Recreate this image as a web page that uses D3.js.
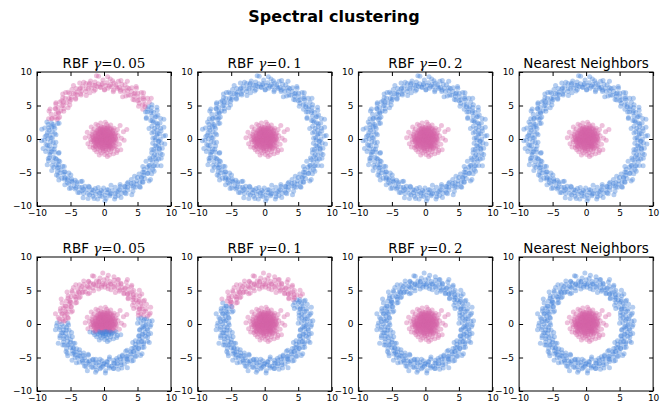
<!DOCTYPE html>
<html>
<head>
<meta charset="utf-8">
<script src="https://cdn.jsdelivr.net/npm/d3@7"></script>
<style>
body { margin: 0; background: #fff; }
text { font-family: "DejaVu Sans", sans-serif; }
</style>
</head>
<body>
<svg width="668" height="409"></svg>
<script>
// outer ring of the first data set, [angle in degrees, radius]
var ringTop = [
[0,8.4],[1.5,7.6],[3,8.9],[4,7.9],[5.5,8.3],[7,7.2],[8,8.6],[9.5,8.0],[11,9.1],[12,7.7],[13.5,8.2],[15,7.4],[16,8.7],[17.5,8.1],[19,7.8],[20,9.0],[21.5,7.5],[23,8.3],[24,8.8],[25.5,7.9],[27,7.1],[28,8.4],[29.5,8.0],[31,9.2],[32,7.6],[33.5,8.5],[35,7.9],[36,8.2],[37.5,7.3],[39,8.7],[40,8.0],[41.5,7.7],[43,8.9],[44,8.3],[45.5,7.5],[47,8.6],[48,7.9],[49.5,9.1],[51,8.1],[52,7.4],[53.5,8.5],[55,7.8],[56,8.3],[57.5,9.0],[59,7.6],[60,8.2],[61.5,8.7],[63,7.2],[64,8.0],[65.5,8.4],[67,7.7],[68,9.3],[69.5,8.1],[71,7.5],[72,8.6],[73.5,8.0],[75,7.8],[76,8.9],[77.5,8.3],[79,7.4],[80,8.5],[81.5,7.9],[83,8.2],[84,9.0],[85.5,7.6],[87,8.4],[88,8.0],[89.5,7.3],[91,8.8],[92,8.1],[93.5,7.7],[95,9.4],[96,8.3],[97.5,7.9],[99,8.6],[100,7.5],[101.5,8.2],[103,8.9],[104,7.8],[105.5,8.4],[107,7.2],[108,8.7],[109.5,8.0],[111,7.6],[112,8.5],[113.5,9.1],[115,7.9],[116,8.3],[117.5,7.4],[119,8.6],[120,8.1],[121.5,7.7],[123,8.8],[124,8.2],[125.5,7.3],[127,8.5],[128,7.9],[129.5,9.0],[131,8.0],[132,7.6],[133.5,8.4],[135,8.7],[136,7.8],[137.5,8.2],[139,7.1],[140,8.6],[141.5,8.0],[143,7.5],[144,8.9],[145.5,8.3],[147,7.7],[148,8.5],[149.5,7.9],[151,9.2],[152,8.1],[153.5,7.4],[155,8.7],[156,8.0],[157.5,7.6],[159,8.4],[160,8.8],[161.5,7.3],[163,8.2],[164,7.9],[165.5,8.6],[167,8.0],[168,7.5],[169.5,9.0],[171,8.3],[172,7.8],[173.5,8.5],[175,7.2],[176,8.1],[177.5,8.8],[179,7.7],[180,8.4],[181.5,9.3],[183,8.0],[184,7.6],[185.5,8.7],[187,8.2],[188,7.4],[189.5,8.5],[191,7.9],[192,8.9],[193.5,8.1],[195,7.6],[196,8.4],[197.5,7.1],[199,8.6],[200,8.0],[201.5,8.9],[203,7.7],[204,8.3],[205.5,7.5],[207,8.7],[208,8.1],[209.5,7.8],[211,9.1],[212,8.2],[213.5,7.4],[215,8.5],[216,7.9],[217.5,8.3],[219,8.8],[220,7.6],[221.5,8.0],[223,8.6],[224,7.3],[225.5,8.4],[227,7.9],[228,8.2],[229.5,9.0],[231,7.7],[232,8.5],[233.5,8.0],[235,7.5],[236,8.8],[237.5,8.3],[239,7.8],[240,8.6],[241.5,7.2],[243,8.1],[244,8.9],[245.5,7.9],[247,8.4],[248,7.6],[249.5,8.7],[251,8.0],[252,7.4],[253.5,8.5],[255,9.2],[256,7.8],[257.5,8.2],[259,8.7],[260,7.5],[261.5,8.3],[263,7.9],[264,9.0],[265.5,8.1],[267,7.7],[268,8.6],[269.5,7.3],[271,8.4],[272,8.9],[273.5,8.0],[275,7.6],[276,8.5],[277.5,8.2],[279,7.8],[280,9.1],[281.5,8.3],[283,7.4],[284,8.7],[285.5,8.0],[287,7.9],[288,8.5],[289.5,7.2],[291,8.2],[292,8.8],[293.5,7.7],[295,8.4],[296,8.0],[297.5,7.5],[299,8.9],[300,8.1],[301.5,7.8],[303,8.6],[304,7.3],[305.5,8.3],[307,9.0],[308,7.9],[309.5,8.4],[311,7.6],[312,8.7],[313.5,8.1],[315,7.4],[316,8.5],[317.5,8.0],[319,9.2],[320,7.8],[321.5,8.3],[323,7.5],[324,8.8],[325.5,8.2],[327,7.7],[328,8.6],[329.5,7.9],[331,8.4],[332,7.1],[333.5,8.9],[335,8.0],[336,7.6],[337.5,8.5],[339,8.2],[340,7.8],[341.5,9.0],[343,8.3],[344,7.4],[345.5,8.7],[347,8.0],[348,7.6],[349.5,8.4],[351,8.8],[352,7.9],[353.5,8.2],[355,7.3],[356,8.6],[357.5,8.1],[359,7.7],
[0.8,7.3],[3.2,9.2],[5.6,8.0],[8.4,7.5],[10.7,8.6],[13.1,6.9],[15.6,8.3],[18.2,9.4],[20.6,7.7],[23.3,8.5],[25.8,7.0],[28.4,9.0],[30.6,8.2],[33.1,7.4],[35.6,8.8],[38.2,7.8],[40.7,9.3],[43.4,7.1],[45.9,8.4],[48.6,7.6],[51.2,8.9],[53.7,7.3],[56.3,8.1],[58.6,9.2],[61.1,7.5],[63.7,8.4],[66.2,6.9],[68.8,8.7],[71.4,7.7],[73.9,9.1],[76.5,8.0],[78.9,7.2],[81.6,8.8],[84.2,7.9],[86.7,9.3],[89.3,7.4],[91.8,8.3],[94.2,7.8],[96.8,9.5],[99.4,8.1],[101.8,7.3],[104.5,8.6],[107.1,7.9],[109.6,9.0],[112.2,7.0],[114.8,8.4],[117.3,7.6],[119.7,9.2],[122.4,8.0],[124.9,7.4],[127.5,8.8],[130.1,7.7],[132.6,9.1],[135.2,7.2],[137.8,8.5],[140.3,7.9],[142.9,9.0],[145.4,7.3],[147.9,8.6],[150.6,7.8],[153.1,9.2],[155.7,7.5],[158.2,8.3],[160.8,7.1],[163.4,8.9],[165.9,7.7],[168.5,8.4],[171.1,9.4],[173.6,7.4],[176.2,8.6],[178.7,7.9],[181.3,8.9],[183.8,7.2],[186.4,8.5],[188.9,9.2],[191.5,7.6],[194.1,8.3],[196.6,7.0],[199.2,8.8],[201.7,7.8],[204.3,9.3],[206.9,7.4],[209.4,8.6],[212.0,8.0],[214.6,7.2],[217.1,8.9],[219.7,7.7],[222.2,9.1],[224.8,8.2],[227.3,7.3],[229.9,8.5],[232.5,7.9],[235.0,9.0],[237.6,7.6],[240.2,8.4],[242.7,7.1],[245.3,8.8],[247.8,8.1],[250.4,9.3],[253.0,7.5],[255.5,8.6],[258.1,7.8],[260.6,9.0],[263.2,7.3],[265.8,8.5],[268.3,7.9],[270.9,9.2],[273.4,7.6],[276.0,8.3],[278.6,7.0],[281.1,8.8],[283.7,8.1],[286.2,9.1],[288.8,7.5],[291.4,8.6],[293.9,7.8],[296.5,9.3],[299.0,7.4],[301.6,8.4],[304.2,7.9],[306.7,8.9],[309.3,7.2],[311.8,8.6],[314.4,8.0],[317.0,9.2],[319.5,7.6],[322.1,8.3],[324.6,7.1],[327.2,8.9],[329.8,7.8],[332.3,8.5],[334.9,9.4],[337.4,7.4],[340.0,8.7],[342.6,7.9],[345.1,9.0],[347.7,7.3],[350.2,8.4],[352.8,7.7],[355.4,9.1],[357.9,8.2]
];

// outer ring of the second data set, [angle in degrees, radius]
var ringBot = [
[0,6.3],[2,5.5],[3.5,6.8],[5,5.9],[7,6.4],[8.5,5.2],[10,6.6],[12,6.0],[13.5,7.1],[15,5.7],[17,6.2],[18.5,5.4],[20,6.7],[22,6.1],[23.5,5.8],[25,7.0],[27,5.5],[28.5,6.3],[30,6.8],[32,5.9],[33.5,5.1],[35,6.4],[37,6.0],[38.5,7.2],[40,5.6],[42,6.5],[43.5,5.9],[45,6.2],[47,5.3],[48.5,6.7],[50,6.0],[52,5.7],[53.5,6.9],[55,6.3],[57,5.5],[58.5,6.6],[60,5.9],[62,7.1],[63.5,6.1],[65,5.4],[67,6.5],[68.5,5.8],[70,6.3],[72,7.0],[73.5,5.6],[75,6.2],[77,6.7],[78.5,5.2],[80,6.0],[82,6.4],[83.5,5.7],[85,7.3],[87,6.1],[88.5,5.5],[90,6.6],[92,6.0],[93.5,5.8],[95,6.9],[97,6.3],[98.5,5.3],[100,6.5],[102,5.9],[103.5,7.4],[105,6.1],[107,5.6],[108.5,6.4],[110,6.8],[112,5.8],[113.5,6.2],[115,5.1],[117,6.6],[118.5,6.0],[120,5.5],[122,6.9],[123.5,6.3],[125,5.7],[127,6.5],[128.5,5.9],[130,7.1],[132,6.1],[133.5,5.4],[135,6.7],[137,6.0],[138.5,5.6],[140,6.4],[142,6.8],[143.5,5.3],[145,6.2],[147,5.9],[148.5,6.6],[150,6.0],[152,5.5],[153.5,7.0],[155,6.3],[157,5.8],[158.5,6.5],[160,5.2],[162,6.1],[163.5,6.8],[165,5.7],[167,6.4],[168.5,6.0],[170,5.5],[172,6.9],[173.5,6.2],[175,5.8],[177,6.6],[178.5,5.4],[180,6.3],[182,7.1],[183.5,6.0],[185,5.6],[187,6.7],[188.5,6.1],[190,5.3],[192,6.5],[193.5,5.9],[195,6.8],[197,6.2],[198.5,5.5],[200,6.4],[202,5.1],[203.5,6.6],[205,6.0],[207,6.9],[208.5,5.7],[210,6.3],[212,5.4],[213.5,6.7],[215,6.1],[217,5.8],[218.5,7.0],[220,6.2],[222,5.5],[223.5,6.5],[225,5.9],[227,6.3],[228.5,7.2],[230,5.6],[232,6.4],[233.5,6.0],[235,5.3],[237,6.8],[238.5,6.2],[240,5.8],[242,6.6],[243.5,5.2],[245,6.1],[247,6.9],[248.5,5.9],[250,6.4],[252,5.6],[253.5,6.7],[255,6.0],[257,5.4],[258.5,6.5],[260,7.3],[262,5.8],[263.5,6.2],[265,6.7],[267,5.5],[268.5,6.3],[270,5.9],[272,7.0],[273.5,6.1],[275,5.7],[277,6.6],[278.5,5.3],[280,6.4],[282,6.8],[283.5,6.0],[285,5.6],[287,6.5],[288.5,6.2],[290,5.8],[292,7.1],[293.5,6.3],[295,5.4],[297,6.7],[298.5,6.0],[300,5.5],[302,6.6],[303.5,6.2],[305,5.9],[307,6.9],[308.5,5.2],[310,6.4],[312,6.0],[313.5,5.7],[315,6.8],[317,6.1],[318.5,5.5],[320,6.5],[322,7.2],[323.5,5.9],[325,6.3],[327,5.6],[328.5,6.7],[330,6.0],[332,5.3],[333.5,6.6],[335,6.2],[337,5.8],[338.5,7.0],[340,6.1],[342,5.5],[343.5,6.5],[345,5.9],[347,6.8],[348.5,6.3],[350,5.4],[352,6.6],[353.5,6.0],[355,5.7],[357,6.9],[358.5,6.2],
[1.1,5.0],[3.8,7.2],[6.5,6.1],[9.2,5.6],[11.8,6.9],[14.4,5.3],[17.1,6.5],[19.8,7.4],[22.4,5.7],[25.1,6.3],[27.7,5.0],[30.4,7.0],[33.0,6.2],[35.7,5.5],[38.3,6.8],[41.0,5.9],[43.7,7.3],[46.3,5.2],[49.0,6.4],[51.6,5.7],[54.3,7.1],[56.9,5.4],[59.6,6.2],[62.2,7.5],[64.9,5.6],[67.5,6.6],[70.2,5.0],[72.8,6.9],[75.5,5.8],[78.1,7.2],[80.8,6.1],[83.4,5.3],[86.1,6.8],[88.7,5.9],[91.4,7.6],[94.0,5.5],[96.7,6.4],[99.3,5.8],[102.0,7.3],[104.6,6.2],[107.3,5.2],[109.9,6.7],[112.6,6.0],[115.2,7.1],[117.9,5.1],[120.5,6.5],[123.2,5.7],[125.8,7.2],[128.5,6.1],[131.1,5.4],[133.8,6.9],[136.4,5.8],[139.1,7.3],[141.7,5.2],[144.4,6.6],[147.0,6.0],[149.7,7.4],[152.3,5.6],[155.0,6.4],[157.6,5.1],[160.3,6.9],[162.9,5.9],[165.6,6.5],[168.2,7.4],[170.9,5.4],[173.5,6.7],[176.2,6.0],[178.8,7.0],[181.5,5.3],[184.1,6.6],[186.8,7.3],[189.4,5.7],[192.1,6.3],[194.7,5.0],[197.4,6.9],[200.0,5.9],[202.7,7.4],[205.3,5.5],[208.0,6.7],[210.6,6.1],[213.3,5.2],[215.9,7.0],[218.6,5.8],[221.2,7.2],[223.9,6.2],[226.5,5.3],[229.2,6.6],[231.8,6.0],[234.5,7.1],[237.1,5.6],[239.8,6.4],[242.4,5.1],[245.1,6.9],[247.7,6.2],[250.4,7.4],[253.0,5.5],[255.7,6.7],[258.3,5.9],[261.0,7.0],[263.6,5.3],[266.3,6.5],[268.9,6.0],[271.6,7.3],[274.2,5.6],[276.9,6.3],[279.5,5.0],[282.2,6.8],[284.8,6.1],[287.5,7.1],[290.1,5.5],[292.8,6.6],[295.4,5.8],[298.1,7.4],[300.7,5.4],[303.4,6.4],[306.0,5.9],[308.7,7.0],[311.3,5.2],[314.0,6.7],[316.6,6.0],[319.3,7.2],[321.9,5.7],[324.6,6.3],[327.2,5.1],[329.9,6.9],[332.5,5.8],[335.2,6.5],[337.8,7.3],[340.5,5.5],[343.1,6.8],[345.8,6.0],[348.4,7.1],[351.1,5.4],[353.7,6.5],[356.4,5.9],[359.0,7.0]
];

// inner blob, [x, y]
var blob = [
[0.1,0.2],[-0.4,0.6],[0.7,-0.3],[-0.9,-0.5],[0.3,1.1],[1.2,0.4],[-1.3,0.1],[0.5,-1.0],[-0.2,-0.7],[0.9,0.9],
[-0.6,1.4],[1.5,-0.6],[-1.1,-1.2],[0.2,-0.1],[-0.3,0.3],[0.6,0.5],[-0.8,0.8],[1.0,-1.1],[-1.5,-0.3],[0.4,1.6],
[1.7,0.2],[-0.1,-1.4],[-1.8,0.7],[0.8,-0.8],[-0.5,-0.2],[0.0,0.9],[1.3,1.2],[-1.0,1.0],[0.3,-0.5],[-0.7,-1.0],
[1.9,-0.2],[-2.0,-0.1],[0.6,1.9],[-0.4,1.8],[1.1,-1.5],[-1.4,-1.6],[0.2,0.5],[-0.2,0.0],[0.9,0.1],[-0.9,0.3],
[0.4,-0.9],[-0.6,-0.6],[1.4,0.8],[-1.2,0.5],[0.1,1.3],[0.7,-1.3],[-0.3,-1.1],[1.6,-1.0],[-1.7,1.1],[0.5,0.0],
[-0.1,0.7],[0.8,0.6],[-0.5,1.0],[1.0,-0.4],[-1.0,-0.8],[0.2,-1.7],[-0.8,1.6],[1.8,0.9],[-1.6,-0.9],[0.0,-0.3],
[0.3,0.8],[-0.4,-0.4],[1.2,-0.1],[-1.1,0.0],[0.6,1.2],[-0.2,1.5],[0.9,-0.9],[-0.7,0.2],[2.1,0.5],[-2.2,0.4],
[0.4,2.2],[-0.9,2.0],[1.5,1.6],[-1.5,1.5],[2.3,-0.8],[-2.4,-0.7],[0.7,0.3],[-0.3,0.9],[0.1,-0.6],[1.1,0.6],
[-1.3,0.9],[0.5,1.4],[-0.6,-0.1],[0.8,-0.1],[-0.1,1.1],[1.3,-0.8],[-1.2,-0.4],[0.0,0.4],[0.4,0.2],[-0.5,0.5],
[1.7,-0.5],[-1.9,-0.4],[2.6,0.1],[-2.5,1.0],[1.0,2.1],[-1.2,2.2],[2.0,1.4],[-2.1,-1.2],[3.0,-0.2],[2.9,1.1],
[-2.8,0.2],[0.2,2.5],[-0.5,2.4],[3.4,1.4],[2.4,2.0],[-1.9,1.8],[1.4,0.0],[-1.4,-0.1],[0.6,-0.6],[-0.2,-0.2],
[0.2,0.0],[-0.8,-0.2],[1.1,1.5],[0.0,1.8],[-1.6,0.3],[1.6,0.5],[0.9,1.4],[-0.3,1.2],
[0.15,0.45],[-0.25,-0.35],[0.55,0.75],[-0.65,0.35],[0.35,-0.25],[-0.05,-0.85],[0.85,-0.55],[-0.95,0.65],[0.25,1.35],[-0.45,1.15],
[1.05,0.25],[-1.15,-0.25],[0.65,-0.95],[-0.35,-0.95],[0.05,0.15],[-0.15,0.55],[0.45,-0.65],[-0.75,-0.45],[1.25,0.85],[-1.05,1.25],
[0.75,1.05],[-0.55,0.05],[0.95,-0.15],[-0.85,-0.85],[0.15,-0.45],[-0.35,0.75],[1.35,-0.35],[-1.35,0.45],[0.55,0.15],[-0.15,-0.15],
[0.35,0.65],[-0.65,1.05],[1.15,-0.75],[-1.25,-0.65],[0.05,1.05],[-0.05,-0.55],[0.75,0.45],[-0.45,-0.75],[0.25,-0.85],[-0.85,0.15],
[1.45,0.35],[-1.45,-0.45],[0.45,1.25],[-0.25,1.35],[0.95,0.65],[-0.95,-0.15],[0.65,-0.25],[-0.55,0.85],[0.15,0.85],[-0.25,-0.05],
[1.05,1.05],[-1.15,0.85],[0.85,-1.05],[-0.75,-1.15],[0.35,0.05],[-0.45,0.25],[0.55,-0.45],[-0.15,0.95],[1.25,-0.05],[-1.05,0.25],
[0.05,-1.15],[0.25,0.35],[-0.35,0.45],[0.65,0.95],[-0.75,0.55],[0.95,0.35],[-0.95,-0.35],[0.45,-1.15],[-0.25,-1.25],[1.15,0.55],
[-1.25,-0.05],[0.15,1.55],[-0.55,1.55],[1.55,-0.15],[-1.55,0.15],[0.75,-0.65],[-0.65,-0.25],[0.05,0.65],[-0.05,0.25],[0.35,-0.05],
[1.65,0.75],[-1.65,-0.15],[0.85,1.65],[-0.85,1.35],[1.35,1.35],[-1.35,-1.05],[0.55,1.65],[-0.15,1.75],[1.75,0.05],[-1.75,0.45],
[0.25,-0.15],[-0.45,-0.25],[0.65,0.25],[-0.05,0.45],[0.45,0.55],[-0.35,-0.55],[0.85,0.75],[-0.75,0.95],[1.05,-0.35],[-1.05,-0.55],
[0.3,-1.2],[-0.5,-1.3],[1.2,-1.3],[-1.3,-1.1],[0.7,-1.6],[-0.1,-1.8],[1.5,-1.4],[-0.9,-1.5],[0.4,-2.0],[-0.4,-2.1],
[1.0,-1.9],[-1.1,-1.9],[1.8,-1.2],[0.1,-2.3],[0.8,-2.4],[-0.7,-2.4],[2.0,-1.7],[1.4,-2.2],[-1.6,-1.3],[0.5,-2.6],
[-0.2,-1.5],[0.9,-1.2],[-0.6,-1.7],[1.9,-2.0],[2.5,-1.6],[0.3,-1.5]
];

var methods = ["RBF", "RBF", "RBF", "Nearest Neighbors"];
var gammas = ["0.05", "0.1", "0.2", null];
// arc of the ring (degrees) that falls in the pink cluster, per panel
var pinkArcTop = [[37, 160], null, null, null];
var pinkArcBot = [[10, 178], [38, 152], null, null];
// blob points below this y go to the blue cluster
var blueBlobTop = [null, null, null, null];
var blueBlobBot = [-1.1, null, null, null];
var ticks = [-10, -5, 0, 5, 10];

var svg = d3.select("svg");
var size = 134, left0 = 37, step = 160.7;
var rowTops = [72, 257];
var blue = "#4482d9", pink = "#d464a8";

svg.append("text")
  .attr("x", 334).attr("y", 22)
  .attr("text-anchor", "middle")
  .attr("font-size", "16px")
  .attr("font-weight", "bold")
  .text("Spectral clustering");

var rows = [
  {ring: ringTop, arcs: pinkArcTop, blobCut: blueBlobTop},
  {ring: ringBot, arcs: pinkArcBot, blobCut: blueBlobBot}
];

rows.forEach(function(row, ri){
  methods.forEach(function(m, ci){
    var x0 = left0 + ci * step, y0 = rowTops[ri];
    var xScale = d3.scaleLinear().domain([-10, 10]).range([0, size]),
        yScale = d3.scaleLinear().domain([-10, 10]).range([size, 0]);
    var g = svg.append("g").attr("transform", "translate(" + x0 + "," + y0 + ")");

    var arc = row.arcs[ci], cut = row.blobCut[ci];
    var pts = [];
    row.ring.forEach(function(d){
      var a = d[0] * Math.PI / 180;
      var isPink = arc && d[0] >= arc[0] && d[0] <= arc[1];
      pts.push({x: d[1] * Math.cos(a), y: d[1] * Math.sin(a), c: isPink ? pink : blue});
    });
    blob.forEach(function(d){
      var isBlue = cut != null && d[1] < cut;
      pts.push({x: d[0], y: d[1], c: isBlue ? blue : pink});
    });

    g.selectAll("circle")
      .data(pts)
      .enter()
      .append("circle")
      .attr("cx", function(d){return xScale(d.x)})
      .attr("cy", function(d){return yScale(d.y)})
      .attr("r", 2.5)
      .attr("fill", function(d){return d.c})
      .attr("fill-opacity", 0.4);

    g.append("rect")
      .attr("width", size).attr("height", size)
      .attr("fill", "none").attr("stroke", "#000").attr("stroke-width", 1);

    var fmt = d3.format("d");
    g.append("g").attr("transform", "translate(0," + size + ")")
      .call(d3.axisBottom(xScale).tickValues(ticks).tickSize(-4).tickPadding(4).tickFormat(fmt));
    g.append("g")
      .call(d3.axisLeft(yScale).tickValues(ticks).tickSize(-4).tickPadding(5).tickFormat(fmt));
    g.append("g")
      .call(d3.axisTop(xScale).tickValues(ticks).tickSize(-4).tickFormat(""));
    g.append("g").attr("transform", "translate(" + size + ",0)")
      .call(d3.axisRight(yScale).tickValues(ticks).tickSize(-4).tickFormat(""));
    g.selectAll(".domain").remove();
    g.selectAll(".tick line").attr("stroke", "#000");
    g.selectAll(".tick text")
      .attr("fill", "#000")
      .style("font-family", "'DejaVu Sans', sans-serif")
      .style("font-size", "9px");

    var t = g.append("text")
      .attr("x", size / 2).attr("y", -4)
      .attr("text-anchor", "middle")
      .attr("font-size", "13.5px");
    t.append("tspan").text(gammas[ci] ? m + " " : m);
    if (gammas[ci]) {
      t.append("tspan").attr("font-family", "'DejaVu Serif', serif").attr("font-style", "italic").text("\u03b3");
      t.append("tspan").attr("font-family", "'DejaVu Serif', serif").text("=" + gammas[ci].replace(".", ".\u2009"));
    }
  });
});
</script>
</body>
</html>
